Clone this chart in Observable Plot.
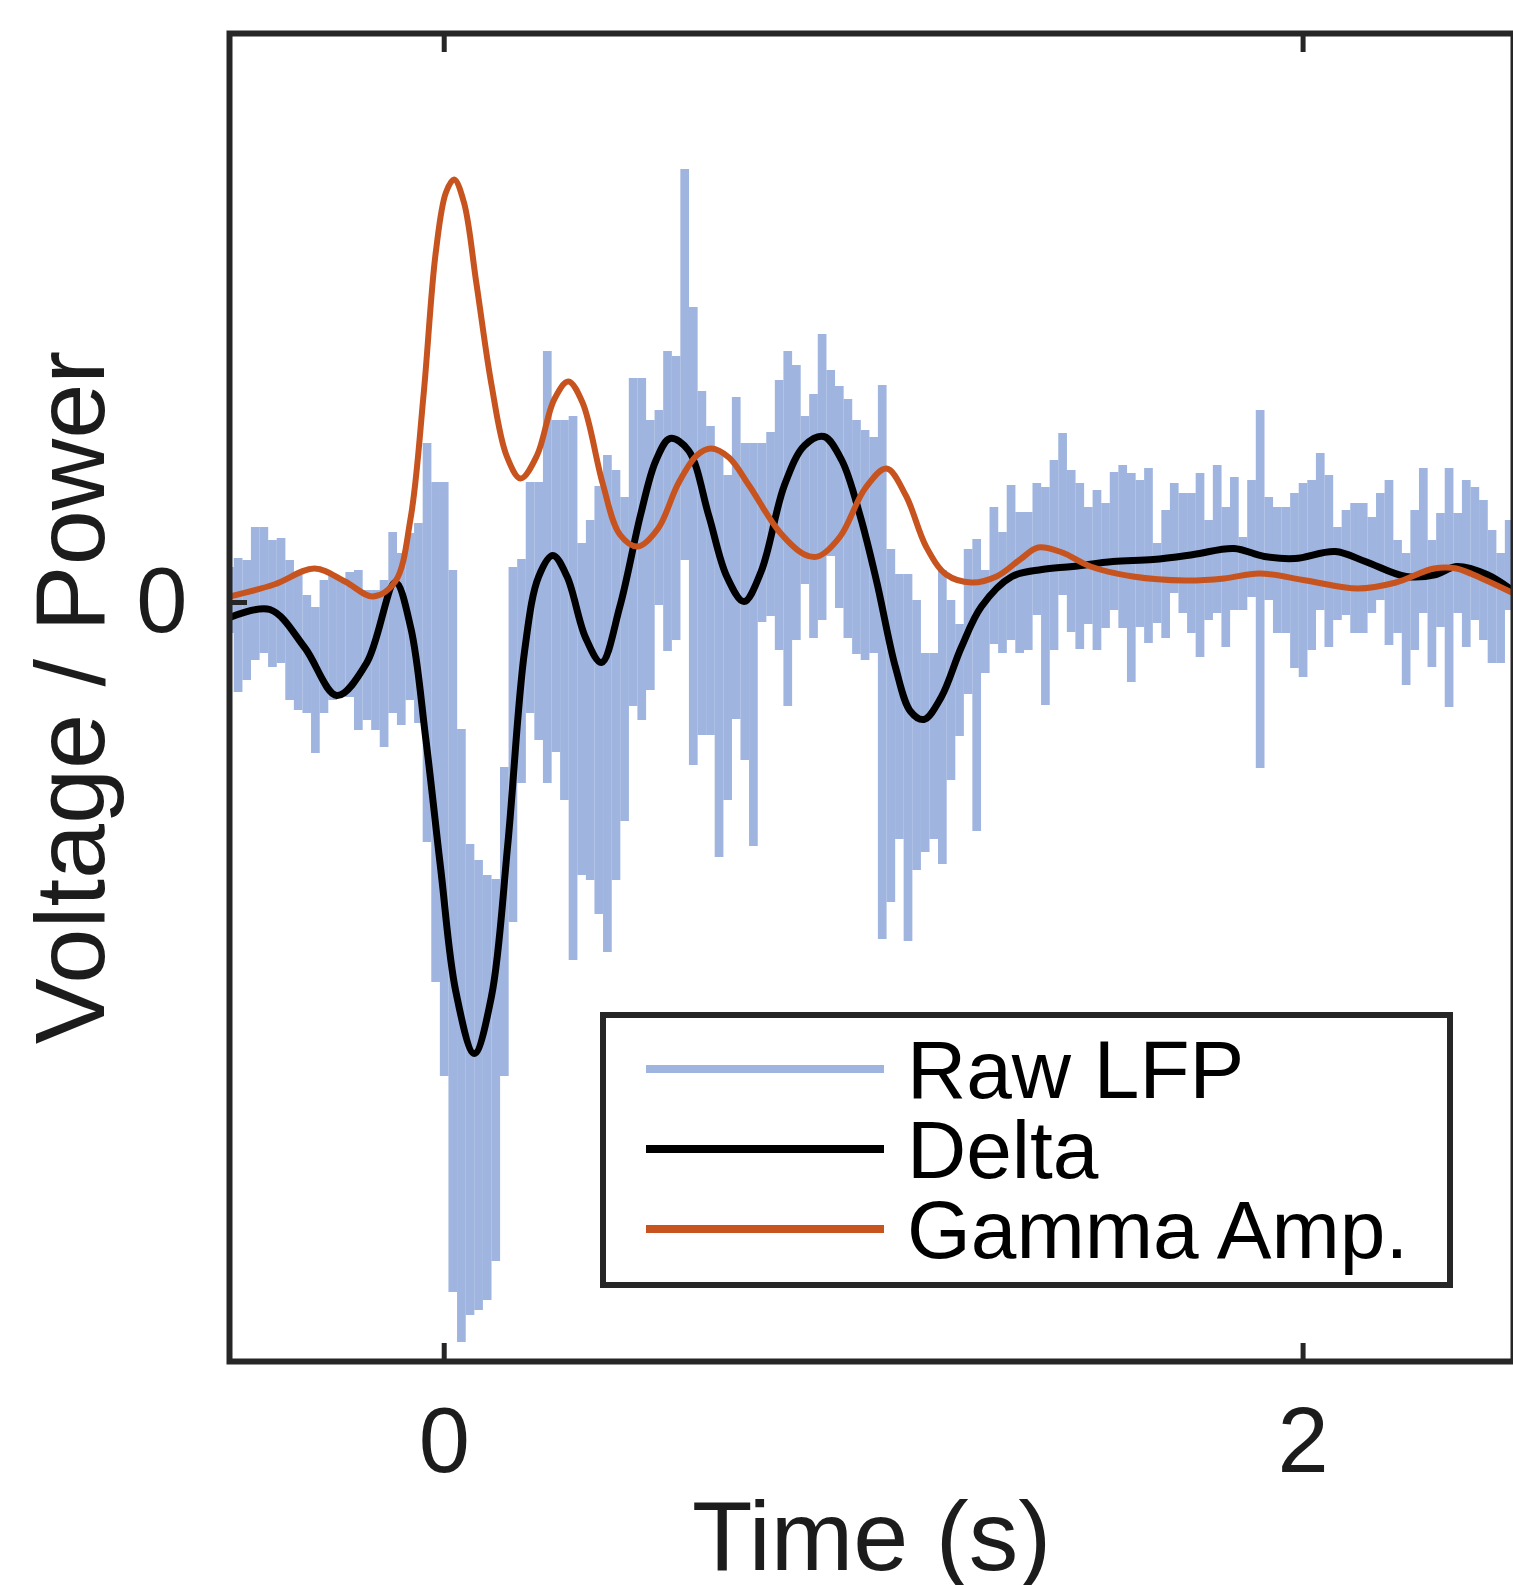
<!DOCTYPE html>
<html><head><meta charset="utf-8">
<script src="https://cdn.jsdelivr.net/npm/d3@7"></script>
<script src="https://cdn.jsdelivr.net/npm/@observablehq/plot@0.6"></script>
<style>
body{margin:0;background:#fff;}
#wrap{position:relative;width:1513px;height:1585px;overflow:hidden;font-family:"Liberation Sans",Arial,Helvetica,sans-serif;}
#legend{position:absolute;left:600px;top:1012px;width:853px;height:276px;box-sizing:border-box;border:6px solid #262626;background:#fff;}
#legend svg{display:block;}
</style></head><body><div id="wrap"></div>
<script>
// ---- data (time in s, amplitude in arbitrary units) ----
const seriesNames = ["Raw LFP", "Delta", "Gamma Amp."];
const seriesColors = ["#9fb5df", "#000000", "#c7531f"];
const xTicks = [0, 2];
const yTicks = [0];
const xLabel = "Time (s)";
const yLabel = "Voltage / Power";

// Raw LFP: per-sample envelope (high / low) every 20 ms
const rawT = [-0.5,-0.48,-0.46,-0.44,-0.42,-0.4,-0.38,-0.36,-0.34,-0.32,-0.3,-0.28,-0.26,-0.24,-0.22,-0.2,-0.18,-0.16,-0.14,-0.12,-0.1,-0.08,-0.06,-0.04,-0.02,
0,0.02,0.04,0.06,0.08,0.1,0.12,0.14,0.16,0.18,0.2,0.22,0.24,0.26,0.28,0.3,0.32,0.34,0.36,0.38,0.4,0.42,0.44,0.46,0.48,
0.5,0.52,0.54,0.56,0.58,0.6,0.62,0.64,0.66,0.68,0.7,0.72,0.74,0.76,0.78,0.8,0.82,0.84,0.86,0.88,0.9,0.92,0.94,0.96,
0.98,1,1.02,1.04,1.06,1.08,1.1,1.12,1.14,1.16,1.18,1.2,1.22,1.24,1.26,1.28,1.3,1.32,1.34,1.36,1.38,1.4,1.42,1.44,1.46,1.48,1.5,
1.52,1.54,1.56,1.58,1.6,1.62,1.64,1.66,1.68,1.7,1.72,1.74,1.76,1.78,1.8,1.82,1.84,1.86,1.88,1.9,1.92,1.94,1.96,1.98,2,
2.02,2.04,2.06,2.08,2.1,2.12,2.14,2.16,2.18,2.2,2.22,2.24,2.26,2.28,2.3,2.32,2.34,2.36,2.38,2.4,2.42,2.44,2.46,2.48,2.5];
const rawHi = [35,44,42,75,75,62,64,42,27,7,-5,22,27,22,30,32,12,12,22,70,49,69,79,159,120,
120,32,-127,-242,-258,-273,-277,-165,35,43,120,120,251,182,182,186,59,82,116,147,132,105,224,224,182,
192,251,246,433,295,211,176,152,127,205,159,159,159,170,222,251,237,186,208,268,232,216,203,182,
172,165,217,53,28,28,2,-51,-51,32,2,-22,53,63,32,95,70,117,90,90,119,115,142,169,132,119,95,
112,99,130,137,129,122,134,59,92,119,109,109,129,82,137,95,125,65,122,192,105,95,95,109,119,
122,149,127,75,92,99,99,85,109,122,62,49,92,134,62,89,134,89,122,115,102,72,49,82,62];
const rawLo = [-31,-90,-78,-58,-51,-65,-61,-98,-108,-111,-151,-111,-98,-91,-95,-128,-118,-128,-145,-111,-123,-98,-121,-240,-380,
-474,-690,-740,-713,-708,-698,-659,-474,-320,-181,-111,-138,-181,-150,-198,-358,-273,-278,-312,-350,-278,-219,-104,-118,-88,
-3,-49,-38,42,-163,-133,-133,-255,-198,-117,-158,-244,-20,-14,-48,-104,-38,18,-36,-18,46,-6,-36,-52,
-58,-51,-337,-300,-237,-339,-268,-250,-237,-262,-178,-134,-92,-229,-71,-42,-51,-38,-51,-48,-13,-103,-48,7,-30,-47,-22,
-48,-26,-8,-26,-80,-25,-41,-21,-36,9,-11,-31,-55,-18,-11,-45,-8,-8,5,-166,2,-31,-31,-66,-75,
-48,-8,-45,-18,-13,-31,-31,-11,2,-43,-31,-83,-48,-11,-65,-25,-105,-11,-45,-18,-38,-61,-61,-8,-18];

// Delta band (filtered)
const deltaT = [-0.5,-0.406,-0.325,-0.25,-0.18,-0.114,-0.078,-0.043,-0.008,0.027,0.07,0.11,0.148,0.187,0.22,0.253,0.286,0.329,0.366,0.409,0.458,0.493,0.526,0.569,0.616,0.658,0.698,0.738,0.792,0.839,0.884,0.926,0.969,1.007,1.051,1.086,1.117,1.157,1.204,1.251,1.322,1.392,1.463,1.557,1.651,1.745,1.839,1.91,1.981,2.075,2.145,2.24,2.31,2.357,2.428,2.491];
const deltaV = [-15,-7,-45,-93,-60,20,-25,-136,-267,-389,-451,-394,-242,-49,26,47,26,-35,-60,-4,89,142,164,152,87,26,1,31,117,157,166,142,86,21,-65,-109,-117,-95,-45,-4,26,33,36,41,43,48,54,46,44,51,41,26,28,36,28,11];

// Gamma amplitude
const gammaT = [-0.5,-0.396,-0.302,-0.231,-0.166,-0.114,-0.078,-0.048,-0.02,0.004,0.023,0.046,0.075,0.11,0.145,0.178,0.216,0.256,0.289,0.322,0.369,0.409,0.451,0.498,0.545,0.588,0.621,0.663,0.71,0.78,0.839,0.87,0.922,0.98,1.03,1.075,1.122,1.169,1.228,1.286,1.341,1.383,1.439,1.505,1.604,1.726,1.816,1.898,2.007,2.127,2.216,2.305,2.357,2.416,2.491];
const gammaV = [6,18,34,21,6,21,85,208,349,410,423,400,319,218,147,124,147,203,221,200,119,68,56,74,119,147,154,145,117,71,48,46,66,114,134,107,56,28,20,26,43,55,50,36,26,22,24,29,22,14,20,34,34,24,9];

// ---- build tables ----
const raw = rawT.map((t, i) => ({t, hi: rawHi[i], lo: rawLo[i]}));
const delta = deltaT.map((t, i) => ({t, v: deltaV[i]}));
const gamma = gammaT.map((t, i) => ({t, v: gammaV[i]}));

const FONT = '"Liberation Sans", Arial, Helvetica, sans-serif';
const AX = "#262626";
const TXT = "#1c1c1c";

const plot = Plot.plot({
  width: 1513, height: 1585,
  marginLeft: 229, marginRight: 0, marginTop: 33, marginBottom: 224,
  x: {domain: [-0.5, 2.49]},
  y: {domain: [-759, 569]},
  style: {fontFamily: FONT, color: TXT, background: "white", overflow: "visible"},
  marks: [
    Plot.ruleX(raw, {x: "t", y1: "lo", y2: "hi", stroke: seriesColors[0], strokeWidth: 8.7, clip: true}),
    Plot.line(delta, {x: "t", y: "v", stroke: seriesColors[1], strokeWidth: 7, curve: "catmull-rom", clip: true}),
    Plot.line(gamma, {x: "t", y: "v", stroke: seriesColors[2], strokeWidth: 6, curve: "catmull-rom", clip: true}),
    Plot.axisX(xTicks, {anchor: "bottom", tickSize: -18, tickFormat: () => "", label: null, color: AX, strokeWidth: 5}),
    Plot.axisX(xTicks, {anchor: "top", tickSize: -18, tickFormat: () => "", label: null, color: AX, strokeWidth: 5}),
    Plot.axisY(yTicks, {anchor: "left", tickSize: -18, tickFormat: () => "", label: null, color: AX, strokeWidth: 5}),
    Plot.text(xTicks, {x: d => d, text: d => String(d), frameAnchor: "bottom", dy: 110, fontSize: 92, fill: TXT}),
    Plot.text(yTicks, {y: d => d, text: d => String(d), frameAnchor: "left", textAnchor: "end", dx: -42, fontSize: 92, fill: TXT}),
    Plot.text([xLabel], {text: d => d, frameAnchor: "bottom", textAnchor: "middle", dy: 208, fontSize: 99, fill: TXT}),
    Plot.text([yLabel], {text: d => d, frameAnchor: "left", textAnchor: "middle", rotate: -90, dx: -157, fontSize: 99, fill: TXT}),
    Plot.frame({stroke: AX, strokeWidth: 6})
  ]
});

const wrap = document.getElementById("wrap");
wrap.appendChild(plot);

// ---- legend (inside the axes box) ----
const leg = document.createElement("div");
leg.id = "legend";
wrap.appendChild(leg);
const lsvg = d3.select(leg).append("svg").attr("width", 841).attr("height", 264);
const rowY = [51, 131, 211];
const widths = [8, 8, 8];
seriesNames.forEach((name, i) => {
  lsvg.append("line").attr("x1", 40).attr("x2", 278).attr("y1", rowY[i]).attr("y2", rowY[i])
    .attr("stroke", seriesColors[i]).attr("stroke-width", widths[i]);
  lsvg.append("text").attr("x", 301).attr("y", rowY[i] + 29)
    .attr("font-family", FONT).attr("font-size", 82).attr("fill", "#000").text(name);
});
</script></body></html>
